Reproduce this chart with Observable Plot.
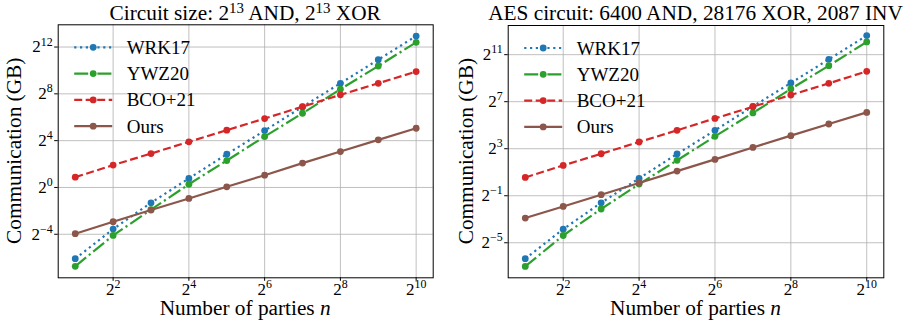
<!DOCTYPE html>
<html>
<head>
<meta charset="utf-8">
<script src="https://cdn.jsdelivr.net/npm/d3@7"></script>
<script src="https://cdn.jsdelivr.net/npm/@observablehq/plot@0.6"></script>
<style>
  html, body { margin: 0; padding: 0; background: white; }
  #wrap { position: relative; width: 921px; height: 324px; overflow: hidden; background: white; }
  #wrap svg { position: absolute; top: 0; overflow: visible; font-family: 'Liberation Serif', 'DejaVu Serif', serif; }
  #wrap svg text { font-family: 'Liberation Serif', 'DejaVu Serif', serif; }
</style>
</head>
<body>
<div id="wrap"></div>
<script>
// ---------- data ----------
const parties = [2, 4, 8, 16, 32, 64, 128, 256, 512, 1024];
const seriesNames = ["WRK17", "YWZ20", "BCO+21", "Ours"];

// Panel 1: Circuit size 2^13 AND, 2^13 XOR  (communication in GB)
const c13_WRK17 = [0.0147, 0.0848, 0.403, 1.71, 7.16, 29.0, 119, 478, 1937, 7860];
const c13_YWZ20 = [0.00936, 0.0583, 0.268, 1.21, 4.93, 20.4, 81.0, 336, 1333, 5405];
const c13_BCO21 = [1.84, 3.76, 7.46, 14.9, 29.7, 59.3, 120, 241, 478, 955];
const c13_Ours  = [0.0647, 0.131, 0.262, 0.521, 1.04, 2.07, 4.23, 8.40, 16.8, 33.4];

// Panel 2: AES circuit (communication in GB)
const aes_WRK17 = [0.0122, 0.0698, 0.330, 1.39, 5.86, 23.6, 97.0, 385, 1552, 6294];
const aes_YWZ20 = [0.00775, 0.0480, 0.229, 0.993, 4.03, 16.6, 65.8, 271, 1068, 4329];
const aes_BCO21 = [1.47, 2.99, 5.94, 11.9, 23.6, 47.8, 95.0, 190, 377, 765];
const aes_Ours  = [0.134, 0.266, 0.532, 1.06, 2.14, 4.26, 8.63, 17.3, 34.3, 68.1];

const xTicks = [4, 16, 64, 256, 1024];
const yTicksA = [1/16, 1, 16, 256, 4096];
const yTicksB = [1/32, 1/2, 8, 128, 2048];

const titleA = ["Circuit size: 2", "13", " AND, 2", "13", " XOR"];
const titleB = ["AES circuit: 6400 AND, 28176 XOR, 2087 INV"];
const xLabel = "Number of parties ";
const xLabelVar = "n";
const yLabel = "Communication (GB)";

// ---------- styles ----------
const colors = ["#1f77b4", "#2ca02c", "#d62728", "#8c564b"];
const dashes = ["2.2,3.6", "14,3.5,2.2,3.5", "8,3.5", null];
const LW = 2.2, R = 3.4;
const FONT = "'Liberation Serif', 'DejaVu Serif', serif";
const BIG = 21.3;

function expStr(v) {
  const e = Math.round(Math.log2(v));
  return (e < 0 ? "\u2212" : "") + Math.abs(e);
}

function makePanel(opts) {
  const {left, width, mL, mR, mT, mB, yDomain, yTicks, vals, title, yLabelX} = opts;
  const H = 324;
  const marks = [
    Plot.gridX(xTicks, {stroke: "#b0b0b0", strokeOpacity: 1, strokeWidth: 0.8}),
    Plot.gridY(yTicks, {stroke: "#b0b0b0", strokeOpacity: 1, strokeWidth: 0.8})
  ];
  vals.forEach((arr, i) => {
    const data = parties.map((p, j) => ({n: p, v: arr[j]}));
    marks.push(Plot.line(data, {x: "n", y: "v", stroke: colors[i], strokeWidth: LW,
      strokeDasharray: dashes[i] || undefined, strokeLinecap: "butt", strokeLinejoin: "round"}));
    marks.push(Plot.dot(data, {x: "n", y: "v", r: R, fill: colors[i], stroke: "none"}));
  });
  marks.push(Plot.frame({stroke: "black", strokeWidth: 1, strokeOpacity: 1}));
  marks.push(Plot.axisX(xTicks, {tickSize: 3.5, tickPadding: 1.5, tickFormat: expStr, label: null, stroke: "black"}));
  marks.push(Plot.axisY(yTicks, {tickSize: 3.5, tickPadding: 2, tickFormat: expStr, label: null, stroke: "black"}));

  const svg = Plot.plot({
    width, height: H,
    marginLeft: mL, marginRight: mR, marginTop: mT, marginBottom: mB,
    style: {fontFamily: FONT, fontSize: "17px", background: "none", color: "black", overflow: "visible"},
    x: {type: "log", base: 2, domain: [Math.pow(2, 0.55), Math.pow(2, 10.45)]},
    y: {type: "log", base: 2, domain: yDomain},
    marks
  });
  svg.style.left = left + "px";
  const s = d3.select(svg);

  // superscript tick labels
  s.selectAll('g[aria-label="x-axis tick label"] text, g[aria-label="y-axis tick label"] text').each(function() {
    const t = d3.select(this);
    const e = this.textContent;
    t.text("2");
    t.append("tspan").attr("font-size", "0.7em").attr("dy", "-0.58em").text(e);
  });

  const fL = mL, fR = width - mR, fT = mT, fB = H - mB;
  // title
  const tt = s.append("text").attr("x", (fL + fR) / 2).attr("y", 19.5)
    .attr("text-anchor", "middle").attr("font-size", BIG + "px").attr("font-family", FONT).attr("fill", "black");
  title.forEach((part, k) => {
    if (k % 2 === 1) tt.append("tspan").attr("font-size", "0.7em").attr("dy", "-0.47em").text(part);
    else if (k > 0) tt.append("tspan").attr("dy", "0.33em").text(part);
    else tt.append("tspan").text(part);
  });
  // x label
  const xl = s.append("text").attr("x", (fL + fR) / 2).attr("y", 315)
    .attr("text-anchor", "middle").attr("font-size", BIG + "px").attr("font-family", FONT).attr("fill", "black");
  xl.append("tspan").text(xLabel);
  xl.append("tspan").attr("font-style", "italic").text(xLabelVar);
  // y label
  s.append("text").attr("transform", `translate(${yLabelX},${(fT + fB) / 2}) rotate(-90)`)
    .attr("text-anchor", "middle").attr("font-size", BIG + "px").attr("font-family", FONT).attr("fill", "black")
    .text(yLabel);
  // legend
  const lg = s.append("g");
  seriesNames.forEach((name, i) => {
    const y = fT + 23 + i * 26.3;
    const x0 = fL + 16.5, x1 = fL + 54.5;
    const ln = lg.append("line").attr("x1", x0).attr("x2", x1).attr("y1", y).attr("y2", y)
      .attr("stroke", colors[i]).attr("stroke-width", LW);
    if (dashes[i]) ln.attr("stroke-dasharray", dashes[i]);
    lg.append("circle").attr("cx", (x0 + x1) / 2).attr("cy", y).attr("r", R).attr("fill", colors[i]);
    lg.append("text").attr("x", fL + 69).attr("y", y + 6.5).attr("font-size", "19px")
      .attr("text-anchor", "start")
      .attr("font-family", FONT).attr("fill", "black").text(name);
  });
  return svg;
}

const wrap = document.getElementById("wrap");
wrap.appendChild(makePanel({
  left: 0, width: 445, mL: 57.7, mR: 12.3, mT: 24.3, mB: 46.7,
  yDomain: [Math.pow(2, -7.72), Math.pow(2, 13.9)], yTicks: yTicksA,
  vals: [c13_WRK17, c13_YWZ20, c13_BCO21, c13_Ours], title: titleA, yLabelX: 21
}));
wrap.appendChild(makePanel({
  left: 445, width: 476, mL: 62.7, mR: 37.7, mT: 25, mB: 46.7,
  yDomain: [Math.pow(2, -7.98), Math.pow(2, 13.48)], yTicks: yTicksB,
  vals: [aes_WRK17, aes_YWZ20, aes_BCO21, aes_Ours], title: titleB, yLabelX: 27.5
}));
</script>
</body>
</html>
